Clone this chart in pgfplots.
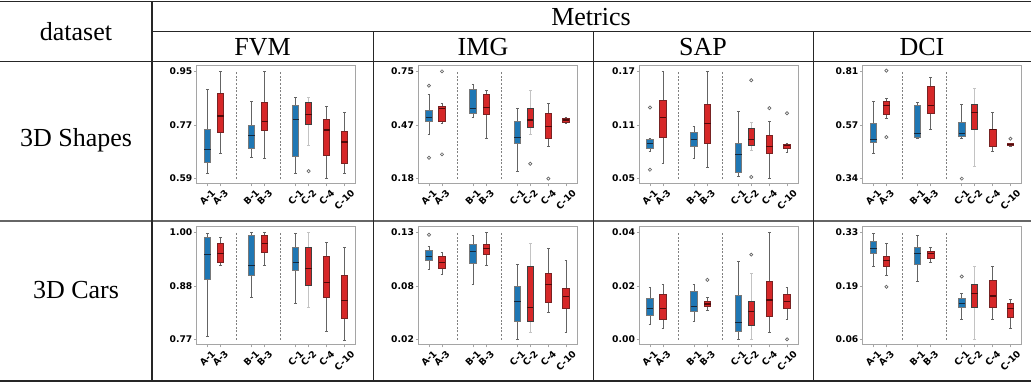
\documentclass[border=0pt]{standalone}
\usepackage{pgfplots}
\pgfplotsset{compat=1.18}
\usepgfplotslibrary{statistics}
\usepackage{graphicx}
\usepackage{fontspec}
\setmainfont{Liberation Serif}
\newfontfamily\dejavu{DejaVu Sans}
\definecolor{mplblue}{RGB}{31,119,180}
\definecolor{mplred}{RGB}{214,39,40}
\definecolor{wgray}{RGB}{100,100,100}
\definecolor{lgray}{RGB}{195,195,195}
\definecolor{bedge}{RGB}{120,120,120}
\definecolor{redge}{RGB}{120,35,35}
\definecolor{medb}{RGB}{20,40,60}
\definecolor{medr}{RGB}{80,10,10}
\definecolor{framec}{RGB}{165,165,165}
\newcommand{\rl}[1]{\rotatebox{45}{#1}}
\newcommand{\B}[8]{\addplot[#1, boxplot prepared={draw position=#2, lower whisker=#3, lower quartile=#4, median=#5, upper quartile=#6, upper whisker=#7}] coordinates {#8};}
\newcommand{\Sep}[2]{%
\addplot[black!50, line width=0.4pt, dash pattern=on 1pt off 0.8pt] coordinates {(0.247,#1)(0.247,#2)};
\addplot[black!50, line width=0.4pt, dash pattern=on 1pt off 0.8pt] coordinates {(0.524,#1)(0.524,#2)};}
\pgfplotsset{
 bp/.style={
   scale only axis, width=79.5pt, height=59pt, anchor=north west,
   xmin=0, xmax=1,
   xtick={0.067,0.149,0.344,0.428,0.623,0.704,0.818,0.929},
   xticklabels={\rl{A-1},\rl{A-3},\rl{B-1},\rl{B-3},\rl{C-1},\rl{C-2},\rl{C-4},\rl{C-10}},
   tick pos=left, tick align=outside, major tick length=1.2pt,
   tick style={framec, line width=0.4pt},
   axis line style={framec, line width=0.5pt},
   tick label style={font=\dejavu\bfseries\fontsize{4.6}{5}\selectfont, text=black},
   xticklabel style={anchor=north, inner sep=0pt, yshift=-1pt},
   yticklabel style={inner sep=0.8pt},
   scaled y ticks=false,
   /pgf/number format/assume math mode=true,
   boxplot/draw direction=y,
   boxplot/box extend=0.04, boxplot/whisker extend=0.017,
   clip=false,
 },
 bl/.style={draw=wgray, line width=0.45pt, boxplot/every box/.style={draw=bedge, fill=mplblue}, boxplot/every median/.style={draw=medb, line width=0.6pt}, mark=o, mark size=0.8pt, mark options={draw=black!60, fill=none, line width=0.35pt, solid}},
 rd/.style={draw=wgray, line width=0.45pt, boxplot/every box/.style={draw=redge, fill=mplred}, boxplot/every median/.style={draw=medr, line width=0.6pt}, mark=o, mark size=0.8pt, mark options={draw=black!60, fill=none, line width=0.35pt, solid}},
 rc/.style={draw=lgray, line width=0.45pt, boxplot/every box/.style={draw=black!75, fill=mplred}, boxplot/every median/.style={draw=medr, line width=0.6pt}, mark=o, mark size=0.8pt, mark options={draw=black!60, fill=none, line width=0.35pt, solid}},
}
\begin{document}
\begin{tikzpicture}
\useasboundingbox (0,0) rectangle (515.5pt,191.5pt);
% table rules
\draw[line width=0.7pt, black!85] (0,190.6pt) -- (515.5pt,190.6pt);
\draw[line width=0.5pt, black!85] (76pt,175.5pt) -- (515.5pt,175.5pt);
\draw[line width=0.5pt, black!85] (0,160.75pt) -- (515.5pt,160.75pt);
\draw[line width=0.8pt, black!60] (0,81pt) -- (515.5pt,81pt);
\draw[line width=0.7pt, black!85] (0,0.9pt) -- (515.5pt,0.9pt);
\draw[line width=0.7pt, black!85] (76pt,190.6pt) -- (76pt,0.9pt);
\draw[line width=0.5pt, black!85] (186.5pt,175.5pt) -- (186.5pt,0.9pt);
\draw[line width=0.5pt, black!85] (296.5pt,175.5pt) -- (296.5pt,0.9pt);
\draw[line width=0.5pt, black!85] (406.5pt,175.5pt) -- (406.5pt,0.9pt);
\begin{scope}[font=\fontsize{13}{15}\selectfont]
\node at (38pt,175.75pt) {dataset};
\node at (295.5pt,183pt) {Metrics};
\node at (131.25pt,168pt) {FVM};
\node at (241.5pt,168pt) {IMG};
\node at (351.5pt,168pt) {SAP};
\node at (461pt,168pt) {DCI};
\node at (38pt,121.5pt) {3D Shapes};
\node at (38pt,46.5pt) {3D Cars};
\end{scope}
% FVM Shapes
\begin{axis}[bp, at={(98.35pt,158.5pt)}, ymin=0.572, ymax=0.968, ytick={0.59,0.77,0.95}, yticklabels={0.59,0.77,0.95}]
\Sep{0.59}{0.95}
\B{bl}{0.067}{0.609}{0.645}{0.687}{0.755}{0.890}{}
\B{rd}{0.149}{0.676}{0.745}{0.800}{0.875}{0.950}{}
\B{bl}{0.344}{0.662}{0.690}{0.735}{0.769}{0.849}{}
\B{rd}{0.428}{0.659}{0.751}{0.783}{0.844}{0.950}{}
\B{bl}{0.623}{0.609}{0.665}{0.789}{0.837}{0.864}{}
\B{rc}{0.704}{0.702}{0.772}{0.805}{0.847}{0.864}{(0,0.615)}
\B{rd}{0.818}{0.592}{0.668}{0.753}{0.789}{0.833}{}
\B{rd}{0.929}{0.609}{0.641}{0.713}{0.748}{0.812}{}
\end{axis}
% IMG Shapes
\begin{axis}[bp, at={(209.15pt,158.5pt)}, ymin=0.1515, ymax=0.7785, ytick={0.18,0.465,0.75}, yticklabels={0.18,0.47,0.75}]
\Sep{0.18}{0.75}
\B{bl}{0.067}{0.413}{0.482}{0.506}{0.542}{0.625}{(0,0.674)(0,0.291)}
\B{rd}{0.149}{0.471}{0.485}{0.551}{0.566}{0.577}{(0,0.75)(0,0.309)}
\B{bl}{0.344}{0.503}{0.528}{0.551}{0.656}{0.679}{}
\B{rd}{0.428}{0.392}{0.522}{0.556}{0.626}{0.651}{}
\B{bl}{0.623}{0.219}{0.365}{0.397}{0.485}{0.554}{}
\B{rc}{0.704}{0.415}{0.453}{0.492}{0.551}{0.651}{(0,0.259)}
\B{rd}{0.818}{0.349}{0.395}{0.457}{0.524}{0.582}{(0,0.18)}
\B{rd}{0.929}{0.475}{0.478}{0.491}{0.499}{0.503}{}
\end{axis}
% SAP Shapes
\begin{axis}[bp, at={(319.65pt,158.5pt)}, ymin=0.044, ymax=0.176, ytick={0.05,0.11,0.17}, yticklabels={0.05,0.11,0.17}]
\Sep{0.05}{0.17}
\B{bl}{0.067}{0.0805}{0.0842}{0.089}{0.0942}{0.0953}{(0,0.1295)(0,0.060)}
\B{rd}{0.149}{0.0667}{0.0964}{0.118}{0.137}{0.17}{}
\B{bl}{0.344}{0.0723}{0.0857}{0.0935}{0.1016}{0.1083}{}
\B{rd}{0.428}{0.063}{0.089}{0.1113}{0.1332}{0.17}{}
\B{bl}{0.623}{0.0522}{0.0574}{0.0767}{0.0898}{0.125}{}
\B{rc}{0.704}{0.0812}{0.0875}{0.0935}{0.1061}{0.1124}{(0,0.160)(0,0.0519)}
\B{rd}{0.818}{0.05}{0.0786}{0.0857}{0.0979}{0.1135}{(0,0.1288)}
\B{rd}{0.929}{0.0794}{0.0834}{0.0868}{0.0883}{0.0898}{(0,0.1232)}
\end{axis}
% DCI Shapes
\begin{axis}[bp, at={(431.35pt,158.5pt)}, ymin=0.3165, ymax=0.8335, ytick={0.34,0.575,0.81}, yticklabels={0.34,0.57,0.81}]
\Sep{0.34}{0.81}
\B{bl}{0.067}{0.449}{0.497}{0.510}{0.583}{0.679}{}
\B{rd}{0.149}{0.602}{0.621}{0.660}{0.679}{0.692}{(0,0.813)(0,0.522)}
\B{bl}{0.344}{0.515}{0.522}{0.536}{0.660}{0.675}{}
\B{rd}{0.428}{0.554}{0.624}{0.660}{0.743}{0.782}{}
\B{bl}{0.623}{0.516}{0.526}{0.539}{0.584}{0.663}{(0,0.34)}
\B{rc}{0.704}{0.392}{0.555}{0.631}{0.666}{0.737}{}
\B{rd}{0.818}{0.459}{0.483}{0.554}{0.557}{0.631}{}
\B{rd}{0.929}{0.481}{0.484}{0.490}{0.493}{0.494}{(0,0.515)}
\end{axis}
% FVM Cars
\begin{axis}[bp, at={(98.35pt,78pt)}, ymin=0.7585, ymax=1.0115, ytick={0.77,0.885,1.00}, yticklabels={0.77,0.88,1.00}]
\Sep{0.77}{1.00}
\B{bl}{0.067}{0.776}{0.899}{0.952}{0.989}{0.997}{}
\B{rd}{0.149}{0.929}{0.935}{0.955}{0.977}{0.989}{}
\B{bl}{0.344}{0.861}{0.907}{0.929}{0.994}{0.999}{}
\B{rd}{0.428}{0.929}{0.956}{0.976}{0.993}{0.999}{}
\B{bl}{0.623}{0.848}{0.918}{0.935}{0.967}{0.997}{}
\B{rc}{0.704}{0.840}{0.886}{0.923}{0.967}{0.999}{}
\B{rd}{0.818}{0.787}{0.860}{0.892}{0.948}{0.978}{}
\B{rd}{0.929}{0.769}{0.815}{0.854}{0.908}{0.967}{}
\end{axis}
% IMG Cars
\begin{axis}[bp, at={(209.15pt,78pt)}, ymin=0.0145, ymax=0.1355, ytick={0.02,0.075,0.13}, yticklabels={0.02,0.08,0.13}]
\Sep{0.02}{0.13}
\B{bl}{0.067}{0.0916}{0.1008}{0.105}{0.111}{0.116}{(0,0.1276)}
\B{rd}{0.149}{0.0865}{0.0927}{0.0988}{0.1049}{0.1096}{}
\B{bl}{0.344}{0.0764}{0.0977}{0.1106}{0.1171}{0.1273}{}
\B{rd}{0.428}{0.0957}{0.1073}{0.1137}{0.1181}{0.13}{}
\B{bl}{0.623}{0.02}{0.0387}{0.059}{0.0743}{0.0974}{}
\B{rc}{0.704}{0.0271}{0.0387}{0.0526}{0.095}{0.1191}{}
\B{rd}{0.818}{0.0475}{0.0584}{0.0767}{0.0876}{0.113}{}
\B{rd}{0.929}{0.0275}{0.0519}{0.0645}{0.0726}{0.1011}{}
\end{axis}
% SAP Cars
\begin{axis}[bp, at={(319.65pt,78pt)}, ymin=-0.002, ymax=0.042, ytick={0,0.02,0.04}, yticklabels={0.00,0.02,0.04}]
\Sep{0}{0.04}
\B{bl}{0.067}{0.0055}{0.009}{0.0117}{0.0153}{0.0196}{}
\B{rd}{0.149}{0.0041}{0.0074}{0.0115}{0.017}{0.0204}{}
\B{bl}{0.344}{0.0068}{0.0104}{0.0123}{0.0181}{0.0206}{}
\B{rd}{0.428}{0.0107}{0.0122}{0.0133}{0.0143}{0.0159}{(0,0.0223)}
\B{bl}{0.623}{0.0}{0.0032}{0.0065}{0.0163}{0.0291}{}
\B{rc}{0.704}{0.0}{0.0052}{0.0106}{0.0143}{0.0247}{(0,0.0317)}
\B{rd}{0.818}{0.0026}{0.0088}{0.0148}{0.0216}{0.04}{}
\B{rd}{0.929}{0.0074}{0.0118}{0.0141}{0.017}{0.0196}{(0,0.0001)}
\end{axis}
% DCI Cars
\begin{axis}[bp, at={(431.35pt,78pt)}, ymin=0.0465, ymax=0.3435, ytick={0.06,0.195,0.33}, yticklabels={0.06,0.19,0.33}]
\Sep{0.06}{0.33}
\B{bl}{0.067}{0.244}{0.276}{0.290}{0.308}{0.328}{}
\B{rd}{0.149}{0.222}{0.244}{0.259}{0.269}{0.302}{(0,0.193)}
\B{bl}{0.344}{0.207}{0.249}{0.277}{0.292}{0.322}{}
\B{rd}{0.428}{0.254}{0.264}{0.276}{0.282}{0.293}{}
\B{bl}{0.623}{0.112}{0.141}{0.151}{0.164}{0.175}{(0,0.219)}
\B{rc}{0.704}{0.06}{0.141}{0.177}{0.2}{0.245}{}
\B{rd}{0.818}{0.110}{0.142}{0.170}{0.209}{0.243}{}
\B{rd}{0.929}{0.089}{0.116}{0.138}{0.150}{0.161}{}
\end{axis}
\end{tikzpicture}
\end{document}
